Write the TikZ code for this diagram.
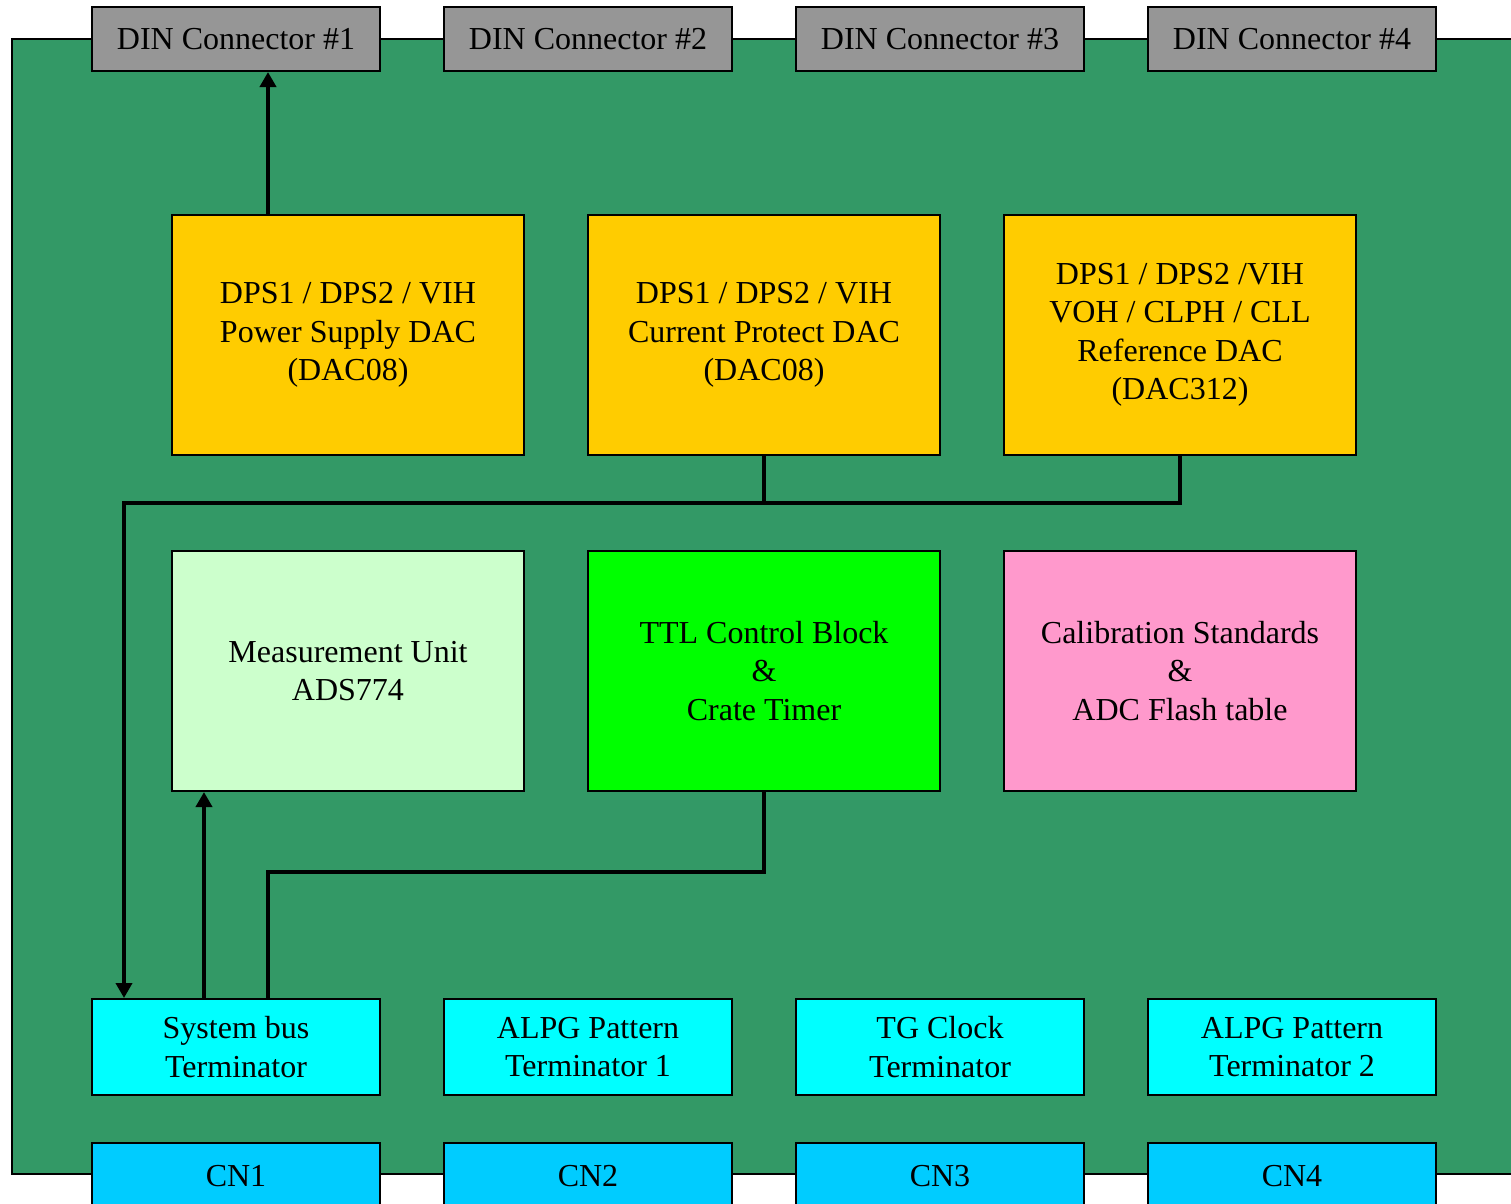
\documentclass[tikz,border=0pt]{standalone}
\usepackage{fontspec}
\setmainfont{Liberation Serif}
\usetikzlibrary{arrows.meta}
\definecolor{board}{RGB}{51,153,102}
\definecolor{dingray}{RGB}{150,150,150}
\definecolor{dacyellow}{RGB}{255,204,0}
\definecolor{measgreen}{RGB}{204,255,204}
\definecolor{ttlgreen}{RGB}{0,255,0}
\definecolor{calpink}{RGB}{255,153,204}
\definecolor{termcyan}{RGB}{0,255,255}
\definecolor{cnblue}{RGB}{0,204,255}
\newcommand{\downby}[1]{\rule{0pt}{0pt}\\[#1]}
\tikzset{
  box/.style={draw=black, line width=2pt, rectangle, align=center, inner sep=0pt,
    font=\fontsize{32}{38.5}\selectfont, text=black},
  dinbox/.style={box, fill=dingray, minimum width=288pt, minimum height=64pt},
  dacbox/.style={box, fill=dacyellow, minimum width=352pt, minimum height=240pt},
  midbox/.style={box, minimum width=352pt, minimum height=240pt},
  termbox/.style={box, fill=termcyan, minimum width=288pt, minimum height=96pt},
  cnbox/.style={box, fill=cnblue, minimum width=288pt, minimum height=66pt},
  conn/.style={draw=black, line width=4.5pt},
  arr/.style={conn, -{Triangle[length=15pt,width=16pt]}}
}
\begin{document}
\begin{tikzpicture}[x=1pt,y=-1pt]
\useasboundingbox (0,0) rectangle (1511,1203);
\clip (0,0) rectangle (1511,1203);
% board
\draw[fill=board, line width=2pt] (12,39) rectangle (1530,1174);
% DIN connectors
\node[dinbox] (d1) at (236,39) {DIN Connector \#1};
\node[dinbox] (d2) at (588,39) {DIN Connector \#2};
\node[dinbox] (d3) at (940,39) {DIN Connector \#3};
\node[dinbox] (d4) at (1292,39) {DIN Connector \#4};
% DACs
\node[dacbox] (y1) at (348,335) {DPS1 / DPS2 / VIH\\Power Supply DAC\\(DAC08)};
\node[dacbox] (y2) at (764,335) {DPS1 / DPS2 / VIH\\Current Protect DAC\\(DAC08)};
\node[dacbox] (y3) at (1180,335) {DPS1 / DPS2 /VIH\\VOH / CLPH / CLL\\Reference DAC\\(DAC312)};
% middle row
\node[midbox, fill=measgreen] (m) at (348,671) {Measurement Unit\\ADS774};
\node[midbox, fill=ttlgreen] (ttl) at (764,671) {TTL Control Block\\\&\\Crate Timer};
\node[midbox, fill=calpink] (cal) at (1180,671) {Calibration Standards\\\&\\ADC Flash table};
% terminators
\node[termbox] (t1) at (236,1047) {System bus\\Terminator};
\node[termbox] (t2) at (588,1047) {ALPG Pattern\\Terminator 1};
\node[termbox] (t3) at (940,1047) {TG Clock\\Terminator};
\node[termbox] (t4) at (1292,1047) {ALPG Pattern\\Terminator 2};
% CN connectors
\node[cnbox] (c1) at (236,1176) {CN1};
\node[cnbox] (c2) at (588,1176) {CN2};
\node[cnbox] (c3) at (940,1176) {CN3};
\node[cnbox] (c4) at (1292,1176) {CN4};
% connectors
\draw[arr] ([xshift=-80pt]y1.north) -- ([xshift=-80pt]y1.north |- d1.south);
\coordinate (busL) at (124,503);
\draw[arr] (y3.south) |- (busL) -- (busL |- t1.north);
\draw[conn] (y2.south) -- (y2.south |- busL);
\draw[arr] ([xshift=-32pt]t1.north) -- ([xshift=-32pt]t1.north |- m.south);
\draw[conn] (ttl.south) -- ++(0,80) -| ([xshift=32pt]t1.north);
\end{tikzpicture}
\end{document}
